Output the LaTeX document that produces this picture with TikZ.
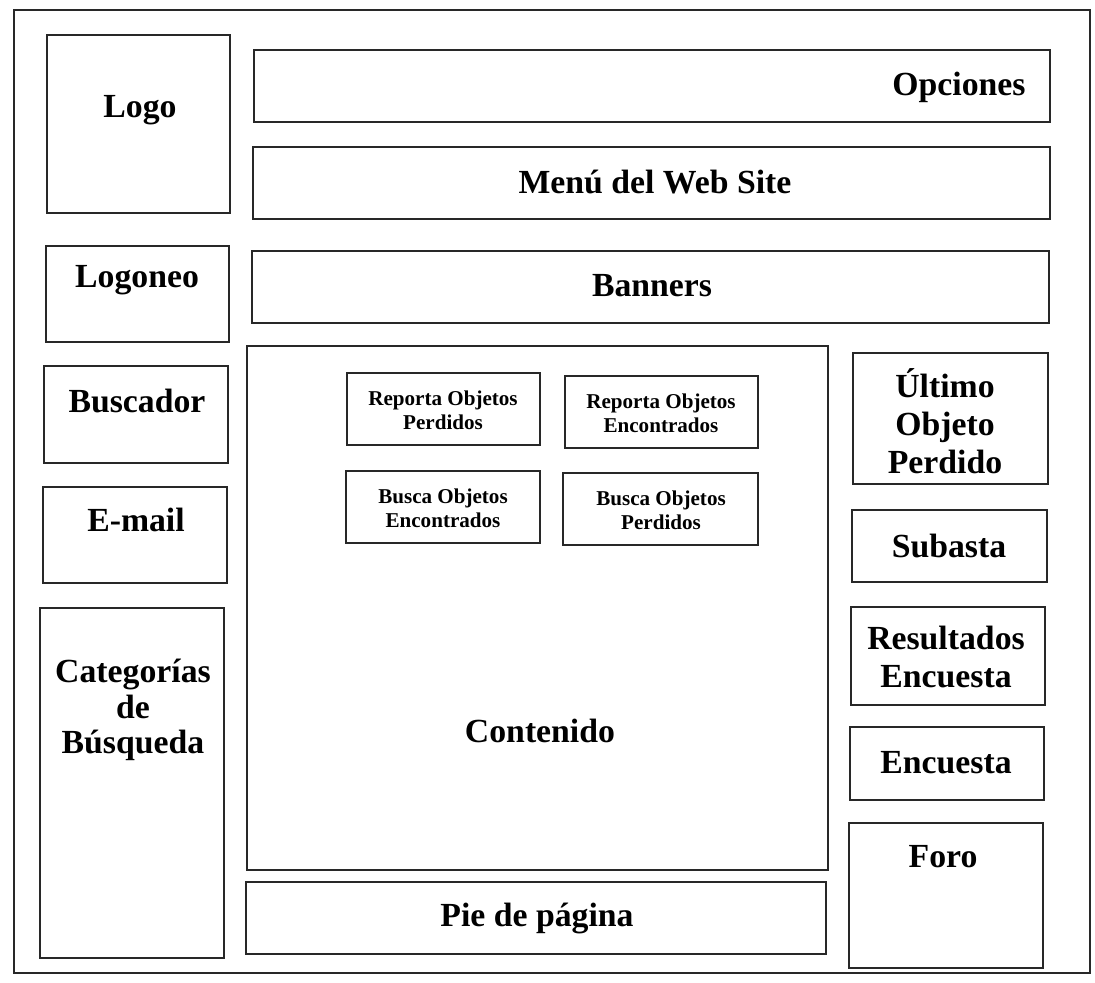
\documentclass[tikz,border=0pt]{standalone}
\usepackage{fontspec}
\setmainfont{Liberation Serif}
\usepackage{tikz}
\definecolor{linea}{RGB}{40, 40, 40}

\begin{document}
\begin{tikzpicture}[x=0.025cm, y=-0.025cm, line width=1.1pt, color=linea,
    big/.style={font=\bfseries\fontsize{24}{27}\selectfont, align=center, text=black},
    small/.style={font=\bfseries\fontsize{15}{17}\selectfont, align=center, text=black}]
  \useasboundingbox (0, 0) rectangle (1095, 982);
  \draw (14, 10) rectangle (1090, 973);

  % columna izquierda
  \draw (47, 35) rectangle (230, 213);
  \node[big] (logo) at (140, 110) {Logo};
  \draw (46, 246) rectangle (229, 342);
  \node[big] (logoneo) at (137, 280) {Logoneo};
  \draw (44, 366) rectangle (228, 463);
  \node[big] (buscador) at (137, 401) {Buscador};
  \draw (43, 487) rectangle (227, 583);
  \node[big] (email) at (136, 520) {E-mail};
  \draw (40, 608) rectangle (224, 958);
  \node[big, font=\bfseries\fontsize{24}{25}\selectfont] (categorias) at (133, 710) {Categorías\\de\\Búsqueda};

  % cabecera
  \draw (254, 50) rectangle (1050, 122);
  \node[big, anchor=east] (opciones) at (1031, 87) {Opciones};
  \draw (253, 147) rectangle (1050, 219);
  \node[big] (menu) at (655, 182) {Menú del Web Site};
  \draw (252, 251) rectangle (1049, 323);
  \node[big] (banners) at (652, 286) {Banners};

  % contenido
  \draw (247, 346) rectangle (828, 870);
  \node[big] (contenido) at (540, 731) {Contenido};
  \draw (347, 373) rectangle (540, 445);
  \node[small] (reportaP) at (443, 410) {Reporta Objetos\\Perdidos};
  \draw (565, 376) rectangle (758, 448);
  \node[small] (reportaE) at (661, 413) {Reporta Objetos\\Encontrados};
  \draw (346, 471) rectangle (540, 543);
  \node[small] (buscaE) at (443, 508) {Busca Objetos\\Encontrados};
  \draw (563, 473) rectangle (758, 545);
  \node[small] (buscaP) at (661, 510) {Busca Objetos\\Perdidos};

  \draw (246, 882) rectangle (826, 954);
  \node[big] (pie) at (537, 918) {Pie de página};

  % columna derecha
  \draw (853, 353) rectangle (1048, 484);
  \node[big] (ultimo) at (945, 421) {Último\\Objeto\\Perdido};
  \draw (852, 510) rectangle (1047, 582);
  \node[big] (subasta) at (949, 546) {Subasta};
  \draw (851, 607) rectangle (1045, 705);
  \node[big] (resultados) at (946, 657) {Resultados\\Encuesta};
  \draw (850, 727) rectangle (1044, 800);
  \node[big] (encuesta) at (946, 763) {Encuesta};
  \draw (849, 823) rectangle (1043, 968);
  \node[big] (foro) at (943, 857) {Foro};
\end{tikzpicture}
\end{document}
